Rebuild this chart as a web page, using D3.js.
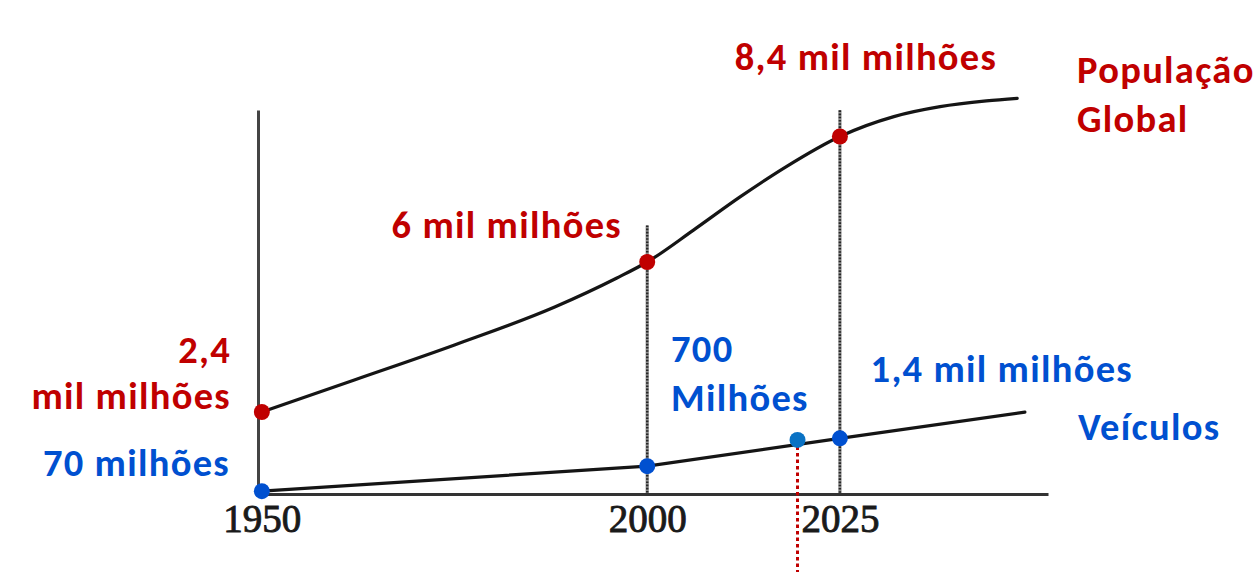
<!DOCTYPE html>
<html>
<head>
<meta charset="utf-8">
<script src="https://cdn.jsdelivr.net/npm/d3@7"></script>
<style>
  html, body { margin: 0; padding: 0; background: #fff; }
  svg { display: block; }
</style>
</head>
<body>
<svg id="chart" width="1257" height="572"></svg>
<script>
// ---- data -------------------------------------------------------------
// World population, thousand millions ("mil milhões"), along the curve
const popYears  = [1950, 1962, 1975, 1988, 1996, 2000, 2006, 2012, 2018, 2025, 2032, 2038, 2044, 2048];
const popValues = [2.4, 3.17, 4.01, 4.92, 5.61, 6.0, 6.61, 7.24, 7.82, 8.4, 8.78, 8.97, 9.08, 9.13];
const popMarkYears = [1950, 2000, 2025];

// Vehicles in circulation, millions
const vehYears  = [1950, 2000, 2025, 2049];
const vehValues = [70, 700, 1400, 2060];
const vehMarkYears = [1950, 2000, 2025];

// Present-day marker on the vehicle line
const todayYear = 2019.5;
const todayVehicles = 1360;

// Axis and reference lines
const axisYears  = [1950, 2000, 2025];
const guideYears = [2000, 2025];
const guideTops  = [6.7, 8.9];   // population units, where each dotted guide ends

// Texts
const popPointLabels = [["2,4", "mil milhões"], ["6 mil milhões"], ["8,4 mil milhões"]];
const vehPointLabels = [["70 milhões"], ["700", "Milhões"], ["1,4 mil milhões"]];
const seriesNames = [["População", "Global"], ["Veículos"]];

// ---- setup -------------------------------------------------------------
const W = 1257, H = 572;
const plot = { left: 258, right: 1048, top: 110, bottom: 494 };
const RED = "#c00000", BLUE = "#0050d0", LIGHTBLUE = "#0a72c4";
const LABEL_FONT = "Carlito, Lato, 'Open Sans', sans-serif";

const svg = d3.select("#chart");
svg.append("rect").attr("width", W).attr("height", H).attr("fill", "#fff");

const x = d3.scaleLinear().domain([1949.5, 2052]).range([plot.left, plot.right]);

// The population axis is drawn schematically: piecewise-linear between the labelled values
const yPop = d3.scaleLinear()
  .domain([0, 2.4, 6, 8.4, 10])
  .range([plot.bottom, 412, 262, 136.5, 52.8]);

const yVeh = d3.scaleLinear().domain([0, 1400]).range([plot.bottom, 438.3]);

const yFrame = d3.scaleLinear().domain([0, 1]).range([plot.bottom, plot.top]);

// ---- dotted guides -------------------------------------------------------
const guides = svg.append("g");
guideYears.forEach((yr, i) => {
  guides.append("line")
    .attr("x1", x(yr)).attr("x2", x(yr))
    .attr("y1", yPop(guideTops[i])).attr("y2", plot.bottom)
    .attr("stroke", "#8c8c8c").attr("stroke-width", 3.2);
  guides.append("line")
    .attr("x1", x(yr)).attr("x2", x(yr))
    .attr("y1", yPop(guideTops[i])).attr("y2", plot.bottom)
    .attr("stroke", "#262626").attr("stroke-width", 2.4)
    .attr("stroke-dasharray", "1.6,1.6");
});

// ---- axes ----------------------------------------------------------------
const xAxis = svg.append("g")
  .attr("transform", `translate(0,${plot.bottom})`)
  .call(d3.axisBottom(x).tickValues(axisYears).tickFormat(d3.format("d")).tickSize(0).tickPadding(10));
xAxis.select(".domain").attr("stroke", "#333").attr("stroke-width", 3);
xAxis.selectAll(".tick text")
  .attr("font-family", "'Liberation Serif', 'DejaVu Serif', serif")
  .attr("font-size", 39)
  .attr("fill", "#1a1a1a")
  .attr("stroke", "#1a1a1a").attr("stroke-width", 0.9)
  .attr("dy", "0.72em");

const yAxis = svg.append("g")
  .attr("transform", `translate(${plot.left},0)`)
  .call(d3.axisLeft(yFrame).ticks(0).tickSize(0));
yAxis.select(".domain").attr("stroke", "#444").attr("stroke-width", 3);

// ---- lines ---------------------------------------------------------------
const popData = popYears.map((yr, i) => ({ year: yr, value: popValues[i] }));
const vehData = vehYears.map((yr, i) => ({ year: yr, value: vehValues[i] }));

svg.append("path")
  .datum(popData)
  .attr("fill", "none").attr("stroke", "#151515").attr("stroke-width", 3.2)
  .attr("stroke-linecap", "round")
  .attr("d", d3.line().x(d => x(d.year)).y(d => yPop(d.value)).curve(d3.curveMonotoneX));

svg.append("path")
  .datum(vehData)
  .attr("fill", "none").attr("stroke", "#151515").attr("stroke-width", 3.2)
  .attr("stroke-linecap", "round")
  .attr("d", d3.line().x(d => x(d.year)).y(d => yVeh(d.value)));

// present-day marker line
svg.append("line")
  .attr("x1", x(todayYear)).attr("x2", x(todayYear))
  .attr("y1", yVeh(todayVehicles)).attr("y2", H)
  .attr("stroke", RED).attr("stroke-width", 3)
  .attr("stroke-dasharray", "3.5,3");

// ---- points --------------------------------------------------------------
const popMarks = popData.filter(d => popMarkYears.includes(d.year));
const vehMarks = vehData.filter(d => vehMarkYears.includes(d.year));

svg.append("g").selectAll("circle").data(popMarks).join("circle")
  .attr("cx", d => x(d.year)).attr("cy", d => yPop(d.value)).attr("r", 8)
  .attr("fill", RED);

svg.append("g").selectAll("circle").data(vehMarks).join("circle")
  .attr("cx", d => x(d.year)).attr("cy", d => yVeh(d.value)).attr("r", 8)
  .attr("fill", BLUE);

svg.append("circle")
  .attr("cx", x(todayYear)).attr("cy", yVeh(todayVehicles)).attr("r", 8)
  .attr("fill", LIGHTBLUE);

// ---- labels --------------------------------------------------------------
function label(lines, px, py, anchor, color, lineGap) {
  const t = svg.append("text")
    .attr("font-family", LABEL_FONT).attr("font-weight", 700)
    .attr("font-size", 38.5).attr("letter-spacing", 1.3)
    .attr("fill", color)
    .attr("text-anchor", anchor);
  lines.forEach((s, i) => {
    t.append("tspan").attr("x", px).attr("y", py + i * lineGap).text(s);
  });
  return t;
}

label(popPointLabels[0], 231, 363, "end", RED, 46);
label(popPointLabels[1], 622, 238, "end", RED, 0);
label(popPointLabels[2], 866, 70, "middle", RED, 0);

label(vehPointLabels[0], 230, 476, "end", BLUE, 0);
label(vehPointLabels[1], 671, 362, "start", BLUE, 49);
label(vehPointLabels[2], 1133, 382, "end", BLUE, 0);

label(seriesNames[0], 1077, 83, "start", RED, 49);
label(seriesNames[1], 1078, 440, "start", BLUE, 0);
</script>
</body>
</html>
